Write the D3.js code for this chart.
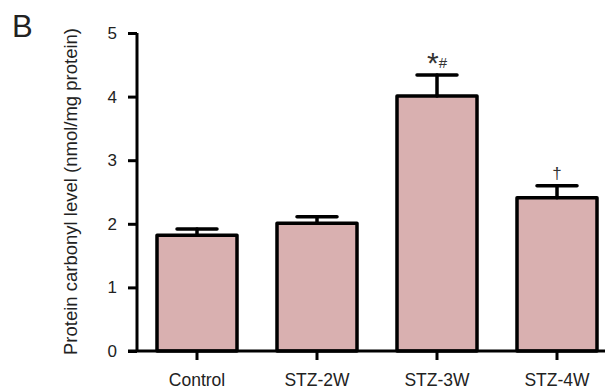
<!DOCTYPE html>
<html>
<head>
<meta charset="utf-8">
<script src="https://cdn.jsdelivr.net/npm/d3@7"></script>
<style>
  body { margin: 0; background: #fff; }
  text { font-family: "Liberation Sans", Arial, sans-serif; }
</style>
</head>
<body>
<script>
const groups = ['Control', 'STZ-2W', 'STZ-3W', 'STZ-4W'];
const means = [1.82, 2.01, 4.01, 2.41];
const sems = [0.10, 0.10, 0.33, 0.19];
const marks = ['', '', '*#', '†'];
const yTicks = [0, 1, 2, 3, 4, 5];

const width = 605;
const height = 391;

const svg = d3.select('body').append('svg')
  .attr('width', width)
  .attr('height', height);

const x = d3.scaleBand()
  .domain(groups)
  .range([137, 617])
  .paddingInner(1 / 3)
  .paddingOuter(1 / 6);

const y = d3.scaleLinear()
  .domain([0, 5])
  .range([351, 33]);

// bars
svg.append('g')
  .selectAll('rect')
  .data(groups)
  .join('rect')
    .attr('x', d => x(d))
    .attr('y', (d, i) => y(means[i]))
    .attr('width', x.bandwidth())
    .attr('height', (d, i) => y(0) - y(means[i]))
    .attr('fill', '#d9b0b0')
    .attr('stroke', '#000')
    .attr('stroke-width', 3.5)
    .attr('stroke-linejoin', 'round');

// error bars (upper only)
const err = svg.append('g')
  .attr('stroke', '#000')
  .attr('stroke-width', 3.5)
  .attr('stroke-linecap', 'round');

groups.forEach((g, i) => {
  const cx = x(g) + x.bandwidth() / 2;
  err.append('line')
    .attr('x1', cx).attr('x2', cx)
    .attr('y1', y(means[i])).attr('y2', y(means[i] + sems[i]));
  err.append('line')
    .attr('x1', cx - 20).attr('x2', cx + 20)
    .attr('y1', y(means[i] + sems[i])).attr('y2', y(means[i] + sems[i]));
});

// significance marks
groups.forEach((g, i) => {
  if (!marks[i]) return;
  const cx = x(g) + x.bandwidth() / 2;
  const ty = y(means[i] + sems[i]) - 10;
  if (marks[i] === '*#') {
    const t = svg.append('text')
      .attr('x', cx)
      .attr('y', ty)
      .attr('text-anchor', 'middle')
      .attr('fill', '#333');
    t.append('tspan').attr('font-size', 30).attr('dy', 8).text('*');
    t.append('tspan').attr('font-size', 15).attr('dy', -5).text('#');
  } else {
    svg.append('text')
      .attr('x', cx)
      .attr('y', ty + 3)
      .attr('text-anchor', 'middle')
      .attr('font-size', 17)
      .attr('fill', '#333')
      .text(marks[i]);
  }
});

// y axis
const yAxis = svg.append('g')
  .attr('transform', 'translate(137,0)')
  .call(d3.axisLeft(y).tickValues(yTicks).tickSize(9).tickPadding(11).tickFormat(d3.format('d')));
yAxis.select('.domain').attr('stroke-width', 3).attr('d', `M0,${y(5)}V${y(0)}`);
yAxis.selectAll('.tick line').attr('stroke-width', 3);
yAxis.selectAll('.tick text').attr('font-size', 17).attr('fill', '#222')
  .attr('font-family', '"Liberation Sans", Arial, sans-serif');

// x axis
const xAxis = svg.append('g')
  .attr('transform', `translate(0,${y(0)})`)
  .call(d3.axisBottom(x).tickSize(9).tickPadding(14));
xAxis.select('.domain').attr('stroke-width', 3).attr('d', 'M128,0H605');
xAxis.selectAll('.tick line').attr('stroke-width', 3);
xAxis.selectAll('.tick text').attr('font-size', 17.5).attr('fill', '#222')
  .attr('font-family', '"Liberation Sans", Arial, sans-serif');

// y label
svg.append('text')
  .attr('transform', `translate(77,${(355 + 28) / 2}) rotate(-90)`)
  .attr('text-anchor', 'middle')
  .attr('font-size', 18.5)
  .attr('fill', '#222')
  .text('Protein carbonyl level (nmol/mg protein)');

// panel letter
svg.append('text')
  .attr('x', 12)
  .attr('y', 37)
  .attr('font-size', 31)
  .attr('fill', '#222')
  .text('B');
</script>
</body>
</html>
